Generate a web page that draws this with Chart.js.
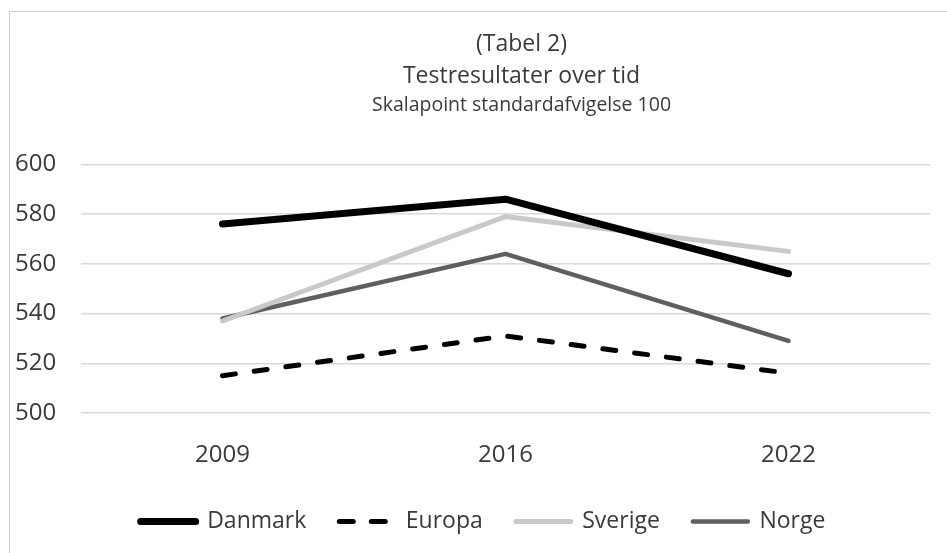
<!DOCTYPE html>
<html>
<head>
<meta charset="utf-8">
<script src="https://cdn.jsdelivr.net/npm/chart.js@4/dist/chart.umd.min.js"></script>
<style>
  html, body { margin: 0; padding: 0; background: #fff; overflow: hidden; }
  #wrap { position: relative; width: 947px; height: 553px; overflow: hidden; }
  #chart { position: absolute; left: 0; top: 0; }
  #frame {
    position: absolute; left: 9px; top: 11px; width: 1200px; height: 800px;
    border-left: 1px solid #cfcfcf; border-top: 1px solid #cfcfcf;
    pointer-events: none;
  }
</style>
</head>
<body>
<div id="wrap">
  <canvas id="chart" width="951" height="553"></canvas>
  <div id="frame"></div>
</div>
<script>
const years = ["2009", "2016", "2022"];
const danmark = [576, 586, 556];
const europa = [515, 531, 516];
const sverige = [537, 579, 565];
const norge = [538, 564, 529];
const yTicks = [500, 520, 540, 560, 580, 600];

Chart.defaults.font.family = "'Open Sans', sans-serif";
Chart.defaults.color = "#3a3a3a";

// the title block sits a bit right of the plot centre in the original
const shiftTitles = {
  id: "shiftTitles",
  afterLayout(chart) {
    chart.boxes.forEach((b) => {
      if (b.position === "top" && b.options && b.options.text !== undefined) {
        b.left += 16;
        b.right += 16;
      }
    });
  },
};

const ctx = document.getElementById("chart").getContext("2d");
new Chart(ctx, {
  type: "line",
  data: {
    labels: years,
    datasets: [
      {
        label: "Danmark",
        data: danmark,
        borderColor: "#000000",
        backgroundColor: "#000000",
        borderWidth: 7,
        borderCapStyle: "round",
        borderJoinStyle: "round",
      },
      {
        label: "Europa",
        data: europa,
        borderColor: "#000000",
        backgroundColor: "#000000",
        borderWidth: 5,
        borderDash: [13, 19],
        borderCapStyle: "round",
      },
      {
        label: "Sverige",
        data: sverige,
        borderColor: "#c9c9c9",
        backgroundColor: "#c9c9c9",
        borderWidth: 5,
        borderCapStyle: "round",
        borderJoinStyle: "round",
      },
      {
        label: "Norge",
        data: norge,
        borderColor: "#5f5f5f",
        backgroundColor: "#5f5f5f",
        borderWidth: 4.5,
        borderCapStyle: "round",
        borderJoinStyle: "round",
      },
    ],
  },
  plugins: [shiftTitles],
  options: {
    responsive: false,
    animation: false,
    layout: { padding: { left: 15, right: 0, top: 0, bottom: 10 } },
    elements: { point: { radius: 0, hoverRadius: 0 }, line: { tension: 0 } },
    plugins: {
      tooltip: { enabled: false },
      title: {
        display: true,
        fullSize: false,
        text: ["(Tabel 2)", "Testresultater over tid"],
        font: { size: 23, weight: "normal", lineHeight: 1.39 },
        padding: { top: 28, bottom: 2 },
      },
      subtitle: {
        display: true,
        fullSize: false,
        text: "Skalapoint standardafvigelse 100",
        font: { size: 19.5, weight: "normal", lineHeight: 1.2 },
        padding: { top: 0, bottom: 47 },
      },
      legend: {
        position: "bottom",
        labels: {
          boxWidth: 55,
          boxHeight: 0,
          padding: 33,
          font: { size: 23 },
        },
      },
    },
    scales: {
      x: {
        offset: true,
        grid: { display: false },
        border: { display: false },
        ticks: { padding: 20, font: { size: 24 } },
        afterFit: (s) => { s.height = 64; },
      },
      y: {
        min: yTicks[0],
        max: yTicks[yTicks.length - 1],
        afterBuildTicks: (s) => { s.ticks = yTicks.map((v) => ({ value: v })); },
        grid: { color: "#d9d9d9", lineWidth: 1.5, drawTicks: false },
        border: { display: false },
        ticks: { crossAlign: "far", font: { size: 24 } },
        afterFit: (s) => { s.width = 66; },
      },
      y2: {
        position: "right",
        grid: { display: false },
        border: { display: false },
        ticks: { display: false },
        afterFit: (s) => { s.width = 21; },
      },
    },
  },
});
</script>
</body>
</html>
